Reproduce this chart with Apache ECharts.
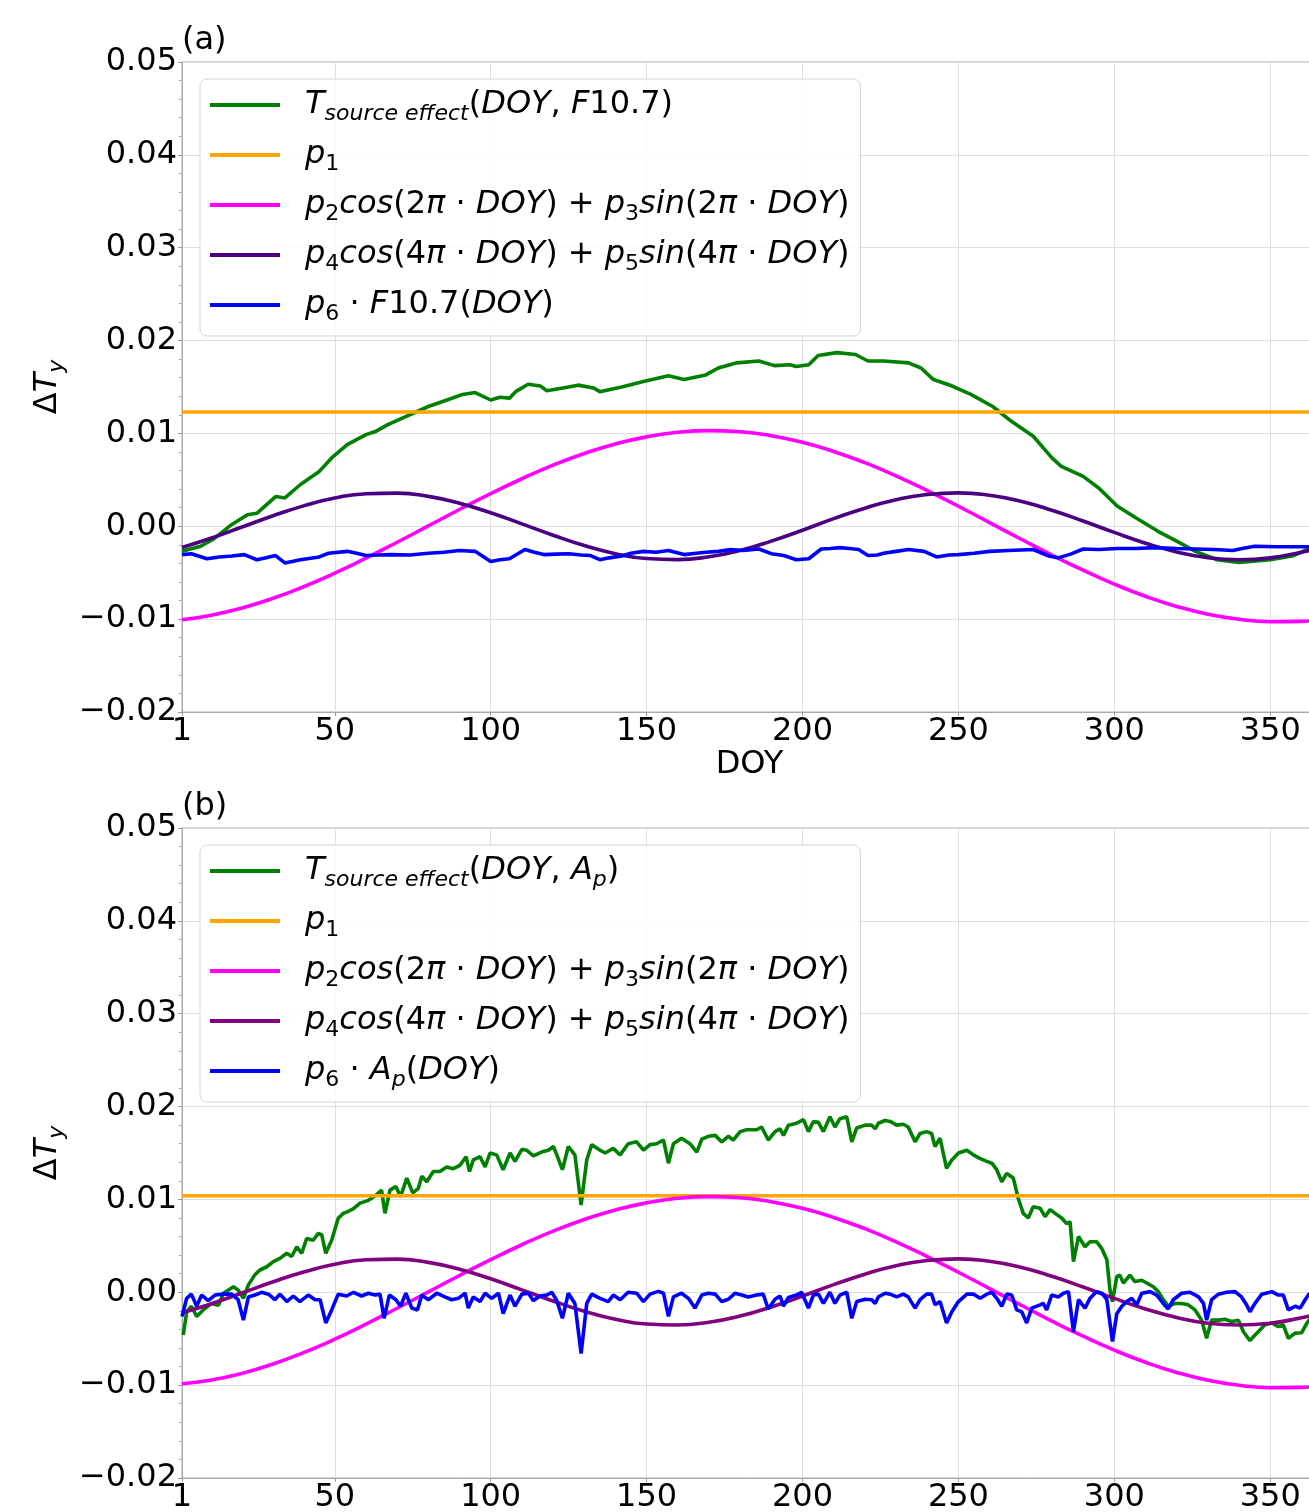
<!DOCTYPE html>
<html>
<head>
<meta charset="utf-8">
<script src="https://cdn.jsdelivr.net/npm/echarts@6/dist/echarts.min.js"></script>
<style>html,body{margin:0;padding:0;background:#fff}#c{width:1309px;height:1512px}</style>
</head>
<body>
<div id="c"></div>
<script>
// ---------------- DATA ----------------
const xTickLabels = [1, 50, 100, 150, 200, 250, 300, 350];
const yTicks = [-0.02, -0.01, 0.00, 0.01, 0.02, 0.03, 0.04, 0.05];

// Panel (a): F10.7 model
const greenA = [[1,-0.0027],[7,-0.00215],[11,-0.0014],[17,0.0002],[22,0.00125],[25,0.0014],[31,0.0032],[34,0.00305],[39,0.0045],[45,0.0059],[49,0.00736],[54,0.0088],[60,0.00987],[63,0.0102],[67,0.01095],[74,0.012],[80,0.0129],[86,0.0136],[91,0.0142],[95,0.0144],[100,0.0136],[103,0.0139],[106,0.0138],[108,0.0145],[112,0.0153],[116,0.0151],[118,0.0146],[125,0.015],[128,0.0152],[133,0.0149],[135,0.0145],[142,0.015],[149,0.0156],[157,0.0162],[162,0.0158],[169,0.0163],[173,0.01705],[179,0.0176],[186,0.0178],[191,0.0173],[196,0.0174],[198,0.0172],[202,0.0174],[205,0.0184],[211,0.0187],[217,0.0185],[221,0.0178],[226,0.0178],[234,0.0176],[238,0.01705],[242,0.0158],[248,0.0151],[254,0.0142],[261,0.0129],[267,0.0113],[274,0.0097],[280,0.00736],[283,0.00646],[290,0.00538],[295,0.00413],[301,0.00215],[307,0.0009],[314,-0.00054],[320,-0.0016],[326,-0.0027],[333,-0.0036],[340,-0.0039],[350,-0.0036],[357,-0.0032],[362,-0.0025],[365,-0.0023]];
const p1A = [[1,0.0123],[365,0.0123]];
const annualA = [[1,-0.01006],[10,-0.0096],[20,-0.00882],[30,-0.00778],[40,-0.00651],[50,-0.00505],[60,-0.00343],[70,-0.00172],[80,0.00004],[90,0.00181],[100,0.00352],[110,0.00512],[120,0.00658],[130,0.00784],[140,0.00887],[150,0.00963],[160,0.01012],[170,0.0103],[180,0.01018],[190,0.00975],[200,0.00904],[210,0.00806],[220,0.00685],[230,0.00543],[240,0.00385],[250,0.00216],[260,0.0004],[270,-0.00137],[280,-0.0031],[290,-0.00473],[300,-0.00623],[310,-0.00754],[320,-0.00863],[330,-0.00947],[340,-0.01002],[350,-0.01028],[360,-0.01024],[365,-0.0101]];
const semiA = [[1,-0.00228],[10,-0.00132],[20,-0.00011],[30,0.00111],[40,0.0022],[50,0.00304],[60,0.00351],[70,0.00357],[80,0.00322],[90,0.00248],[100,0.00146],[110,0.00026],[120,-0.00096],[130,-0.00208],[140,-0.00295],[150,-0.00347],[160,-0.00359],[170,-0.00328],[180,-0.0026],[190,-0.0016],[200,-0.00042],[210,0.00082],[220,0.00195],[230,0.00286],[240,0.00343],[250,0.0036],[260,0.00334],[270,0.0027],[280,0.00173],[290,0.00057],[300,-0.00066],[310,-0.00182],[320,-0.00276],[330,-0.00338],[340,-0.0036],[350,-0.0034],[360,-0.0028],[365,-0.00237]];
const blueA = [[1,-0.00305],[4,-0.00295],[9,-0.0035],[13,-0.0033],[17,-0.0032],[21,-0.00305],[25,-0.0036],[28,-0.0034],[31,-0.00315],[34,-0.00395],[39,-0.0036],[45,-0.0033],[48,-0.0029],[54,-0.0027],[57,-0.0029],[60,-0.00315],[64,-0.0031],[68,-0.00305],[74,-0.0031],[80,-0.0029],[85,-0.0028],[90,-0.0026],[95,-0.0027],[100,-0.0038],[103,-0.0036],[106,-0.0035],[111,-0.0025],[114,-0.0028],[117,-0.00305],[121,-0.003],[125,-0.00295],[129,-0.0031],[132,-0.00315],[135,-0.0036],[138,-0.0034],[142,-0.0032],[145,-0.0029],[149,-0.0027],[153,-0.0028],[157,-0.0026],[162,-0.00305],[166,-0.0029],[169,-0.0028],[173,-0.0027],[177,-0.0025],[181,-0.0026],[186,-0.00245],[190,-0.00295],[194,-0.00315],[198,-0.0036],[202,-0.0035],[206,-0.00245],[209,-0.0024],[212,-0.0023],[215,-0.0024],[218,-0.0025],[221,-0.00315],[224,-0.0031],[226,-0.0029],[230,-0.0027],[234,-0.0025],[239,-0.0027],[243,-0.0033],[247,-0.0031],[250,-0.00305],[255,-0.0029],[260,-0.0027],[266,-0.0026],[274,-0.0025],[279,-0.0032],[282,-0.0034],[286,-0.003],[290,-0.00245],[295,-0.0025],[301,-0.0024],[307,-0.0024],[313,-0.0023],[320,-0.0024],[326,-0.00245],[332,-0.0025],[338,-0.0026],[341,-0.0024],[345,-0.00215],[352,-0.0022],[358,-0.0022],[362,-0.0022],[365,-0.0022]];

// Panel (b): Ap model
const greenB = [[1.4,-0.0046],[2.5,-0.0021],[4,-0.0015],[5.7,-0.0026],[7.8,-0.0019],[10.5,-0.0012],[12.7,-0.0014],[14.3,-0.0001],[17.5,0.0006],[19,0.00025],[20.7,-0.00065],[22.3,0.0008],[24.4,0.0019],[26,0.0024],[28.2,0.00275],[30.3,0.0033],[32.4,0.00365],[34.6,0.0042],[36.2,0.00385],[37.8,0.0049],[39.4,0.0042],[41,0.0058],[43.1,0.0056],[44.7,0.00635],[45.8,0.0062],[47.1,0.0042],[49,0.0056],[51.1,0.00797],[52.7,0.0085],[54.3,0.0087],[56,0.009],[58.1,0.0096],[60.8,0.0099],[63.4,0.0105],[65,0.011],[66.1,0.0085],[67.7,0.011],[69.6,0.0114],[71.1,0.0103],[73.1,0.0123],[75,0.0107],[76.8,0.0112],[77.9,0.0125],[79.5,0.0119],[81.6,0.013],[83.7,0.013],[85.9,0.0135],[88,0.0133],[90.2,0.0137],[92.1,0.0146],[93.2,0.013],[94.4,0.01425],[96.6,0.0146],[98.2,0.0135],[99.8,0.015],[101.9,0.0148],[104,0.0132],[106.2,0.015],[107.8,0.0141],[110,0.0154],[111.5,0.0153],[113.7,0.0147],[116.3,0.0151],[118.5,0.0153],[120.1,0.0157],[121.2,0.0148],[123,0.0132],[124.9,0.0157],[127,0.0148],[129,0.0094],[130.8,0.01425],[132.4,0.0159],[135.1,0.0153],[136.7,0.015],[139.3,0.0155],[141.5,0.0148],[144.1,0.016],[146.8,0.0162],[149,0.0153],[151.1,0.0159],[153.2,0.016],[155.4,0.0164],[157,0.0139],[158.6,0.016],[161.2,0.0166],[163.9,0.016],[166.1,0.0151],[167.7,0.0165],[169.8,0.0168],[172,0.0169],[174.1,0.0162],[176.2,0.0168],[177.8,0.0164],[180,0.0173],[182.1,0.0175],[185.3,0.0175],[186.9,0.0178],[189,0.0164],[191.2,0.0173],[192.8,0.0176],[193.9,0.0169],[195.5,0.018],[198.1,0.0182],[200.3,0.0186],[201.9,0.0173],[203.5,0.0184],[205.1,0.0183],[206.7,0.0173],[208.8,0.0189],[210.4,0.0178],[212,0.0187],[214.2,0.0189],[215.8,0.0162],[217.4,0.0177],[220.1,0.018],[222.2,0.018],[223.3,0.0176],[224.3,0.0182],[226.5,0.0185],[228.1,0.0184],[230.2,0.018],[232.3,0.0181],[233.9,0.0178],[236.1,0.0162],[237.7,0.0171],[239.8,0.0173],[241.4,0.0171],[242.5,0.0157],[244.1,0.0166],[246.2,0.01335],[247.9,0.01425],[250,0.015],[252.7,0.0153],[254.8,0.0148],[257,0.0144],[259.1,0.0141],[260.7,0.0139],[262.3,0.0132],[263.9,0.0119],[265.5,0.0128],[267.6,0.0123],[269.2,0.0101],[270.8,0.0085],[272.4,0.008],[274,0.0092],[276.2,0.00905],[277.8,0.00815],[279.4,0.0089],[281,0.0085],[283.1,0.008],[284.7,0.0074],[285.8,0.0076],[286.9,0.0033],[288.5,0.006],[290.6,0.0049],[292.2,0.00545],[294.3,0.00545],[296,0.0047],[297.6,0.0035],[298.6,0.00025],[299.4,-0.001],[300.8,0.0017],[301.8,0.00185],[302.9,0.001],[305,0.00185],[306.6,0.00115],[308.8,0.0013],[310.4,0.001],[312.5,0.0006],[314.1,0.00007],[315.7,-0.0008],[317.3,-0.0015],[319.5,-0.0012],[321.6,-0.0012],[323.7,-0.00135],[325.9,-0.0019],[328,-0.003],[329.6,-0.00495],[331.2,-0.003],[333.4,-0.003],[335.5,-0.0029],[337.6,-0.00315],[339.8,-0.003],[341.4,-0.00425],[343.5,-0.0052],[345.7,-0.0044],[348.3,-0.0035],[350.5,-0.0033],[352.6,-0.0037],[354.2,-0.0035],[355.8,-0.00495],[358,-0.0044],[360.1,-0.00435],[361.7,-0.00335],[362.4,-0.003],[365,-0.0028]];
const p1B = [[1,0.0104],[365,0.0104]];
const annualB = [[1,-0.00985],[10,-0.00948],[20,-0.00876],[30,-0.00775],[40,-0.0065],[50,-0.00505],[60,-0.00343],[70,-0.00172],[80,0.00004],[90,0.00181],[100,0.00352],[110,0.00512],[120,0.00658],[130,0.00784],[140,0.00887],[150,0.00963],[160,0.01012],[170,0.0103],[180,0.01018],[190,0.00975],[200,0.00904],[210,0.00806],[220,0.00685],[230,0.00543],[240,0.00385],[250,0.00216],[260,0.0004],[270,-0.00137],[280,-0.0031],[290,-0.00473],[300,-0.00623],[310,-0.00754],[320,-0.00863],[330,-0.00947],[340,-0.01002],[350,-0.01028],[360,-0.01024],[365,-0.0101]];
const semiB = [[1,-0.0022],[10,-0.00128],[20,-0.0001],[30,0.0011],[40,0.00218],[50,0.00302],[60,0.0035],[70,0.00357],[80,0.00322],[90,0.00248],[100,0.00146],[110,0.00026],[120,-0.00094],[130,-0.00204],[140,-0.0029],[150,-0.00342],[160,-0.00352],[170,-0.00322],[180,-0.00256],[190,-0.00158],[200,-0.0004],[210,0.00082],[220,0.00195],[230,0.00286],[240,0.00343],[250,0.0036],[260,0.00334],[270,0.0027],[280,0.00173],[290,0.00057],[300,-0.00066],[310,-0.0018],[320,-0.00272],[330,-0.00333],[340,-0.00352],[350,-0.00333],[360,-0.00275],[365,-0.00235]];
const blueB = [[1,-0.0026],[2.5,-0.00065],[4,-0.0002],[5.7,-0.0015],[7.3,-0.0003],[9.4,-0.0009],[11.6,-0.0003],[14.3,-0.0002],[16.9,-0.0002],[19,-0.0008],[20.7,-0.003],[22.3,-0.0005],[24.4,-0.0003],[26.5,0],[28.7,-0.0002],[30.8,-0.0008],[32.4,-0.0002],[34.6,-0.001],[36.7,-0.0004],[38.8,-0.001],[41.5,-0.0003],[43.7,-0.0008],[45.3,-0.0008],[47.1,-0.0033],[49,-0.0019],[51.1,-0.0002],[53.8,-0.0004],[56,0],[58.6,-0.0004],[60.8,-0.0001],[62.9,-0.0003],[64.5,-0.0002],[65.8,-0.0028],[67.5,-0.0003],[69.6,-0.0008],[71.1,-0.0015],[72.8,-0.0001],[74.7,-0.0017],[76.5,-0.0019],[77.9,-0.0003],[80,-0.0008],[82.7,-0.0001],[85.3,-0.0005],[87.5,-0.0008],[89.6,-0.00065],[91.8,-0.0001],[92.8,-0.0017],[94.4,-0.0005],[96.6,-0.001],[98.2,-0.0001],[100.3,-0.00065],[102.5,-0.0001],[104,-0.0023],[106.2,-0.0003],[107.8,-0.0015],[110,-0.0002],[112.1,-0.0001],[113.7,-0.0009],[115.8,-0.0004],[118,-0.0003],[119.6,0],[121.2,-0.0009],[123,-0.0028],[124.9,-0.0001],[127,-0.0012],[129,-0.0066],[130.8,-0.0012],[132.4,-0.0002],[135.1,-0.00065],[137.7,-0.001],[139.3,-0.0003],[141.5,-0.0008],[144.1,0],[146.8,-0.0001],[149,-0.001],[151.1,-0.0002],[153.8,0.0001],[155.4,-0.0001],[157,-0.0026],[158.6,-0.0005],[161.2,-0.0001],[163.4,-0.00065],[165.5,-0.0017],[167.7,-0.0003],[169.8,-0.0001],[172,-0.0002],[174.1,-0.001],[176.2,-0.00075],[178.4,-0.0001],[180.5,-0.0003],[182.6,-0.0005],[185.3,-0.0003],[187.4,-0.0002],[189,-0.0018],[191.2,-0.00075],[192.8,-0.0004],[193.9,-0.0015],[195.5,-0.00055],[198.1,-0.0003],[199.7,0],[201.9,-0.0017],[203.5,-0.0003],[205.1,-0.0002],[206.7,-0.0012],[208.8,0],[210.4,-0.0012],[212,-0.0003],[214.2,0],[215.8,-0.0028],[217.4,-0.001],[220.1,-0.00075],[222.2,-0.0008],[223.3,-0.0012],[224.3,-0.0005],[226.5,-0.0001],[228.1,-0.0002],[230.2,-0.0005],[232.3,-0.0002],[233.9,-0.0005],[236.1,-0.0017],[237.7,-0.0008],[239.8,-0.0002],[241.4,-0.0002],[242.5,-0.00135],[244.1,-0.001],[246.2,-0.0033],[247.9,-0.0021],[250,-0.001],[252.7,-0.0002],[254.8,-0.0002],[257,-0.00065],[259.1,-0.0002],[260.7,0],[262.3,-0.00065],[263.9,-0.0015],[265.5,-0.0002],[267.1,-0.0003],[268.7,-0.0019],[270.3,-0.0021],[271.9,-0.0033],[273.5,-0.0017],[276.2,-0.00135],[277.2,-0.0012],[278.3,-0.0019],[279.9,-0.0003],[282,-0.0005],[283.7,-0.0001],[285.3,0.00007],[286.9,-0.00425],[288.5,-0.0008],[290.6,-0.0017],[292.2,-0.00065],[294.3,0.00007],[296,-0.0001],[297.6,-0.0008],[299.4,-0.0053],[300.8,-0.0023],[302.4,-0.0015],[304,-0.001],[305.6,-0.00065],[307.2,-0.00135],[308.8,-0.0001],[311.5,0.00007],[313.6,-0.0003],[315.7,-0.0012],[317.3,-0.0018],[318.9,-0.0008],[321.6,-0.0001],[324.3,0],[327,-0.0005],[328.6,-0.0012],[329.6,-0.003],[331.2,-0.0008],[333.4,-0.0002],[336,0],[338.7,0.00007],[340.8,-0.0005],[342.4,-0.00135],[343.5,-0.0021],[345.1,-0.0012],[347.3,-0.0002],[350.5,0.00007],[352.6,-0.0003],[354.2,-0.0003],[355.8,-0.0019],[358,-0.0015],[359.6,-0.0017],[361.2,-0.0008],[362.4,-0.0002],[365,-0.0002]];

// ---------------- STYLE ----------------
const FONT = 'DejaVu Sans';
const FS = 32;
const TXT = '#000';
const richStyles = {
  i: {fontFamily: FONT, fontSize: FS, fontStyle: 'italic', color: TXT, lineHeight: 40},
  n: {fontFamily: FONT, fontSize: FS, color: TXT, lineHeight: 40},
  s: {fontFamily: FONT, fontSize: 22, fontStyle: 'italic', color: TXT, lineHeight: 12, verticalAlign: 'bottom'},
  sn: {fontFamily: FONT, fontSize: 22, color: TXT, lineHeight: 12, verticalAlign: 'bottom'}
};
const LABELS = {
  Ta: '{i|T}{s|source effect}{n|(}{i|DOY}{n|, }{i|F}{n|10.7)}',
  p1a: '{i|p}{sn|1}',
  h1a: '{i|p}{sn|2}{i|cos}{n|(2}{i|π}{n| · }{i|DOY}{n|) + }{i|p}{sn|3}{i|sin}{n|(2}{i|π}{n| · }{i|DOY}{n|)}',
  h2a: '{i|p}{sn|4}{i|cos}{n|(4}{i|π}{n| · }{i|DOY}{n|) + }{i|p}{sn|5}{i|sin}{n|(4}{i|π}{n| · }{i|DOY}{n|)}',
  p6a: '{i|p}{sn|6}{n| · }{i|F}{n|10.7(}{i|DOY}{n|)}',
  Tb: '{i|T}{s|source effect}{n|(}{i|DOY}{n|, }{i|A}{s|p}{n|)}',
  p1b: '{i|p}{sn|1}',
  h1b: '{i|p}{sn|2}{i|cos}{n|(2}{i|π}{n| · }{i|DOY}{n|) + }{i|p}{sn|3}{i|sin}{n|(2}{i|π}{n| · }{i|DOY}{n|)}',
  h2b: '{i|p}{sn|4}{i|cos}{n|(4}{i|π}{n| · }{i|DOY}{n|) + }{i|p}{sn|5}{i|sin}{n|(4}{i|π}{n| · }{i|DOY}{n|)}',
  p6b: '{i|p}{sn|6}{n| · }{i|A}{s|p}{n|(}{i|DOY}{n|)}'
};

const GRID_TOPS = [62, 828];
const PLOT_H = 650;

function yFmt(v) {
  const s = Math.abs(v).toFixed(2);
  return v < -1e-9 ? '\u2212' + s : s;
}

function xAxis(idx, withName) {
  return {
    type: 'value', gridIndex: idx, min: 1, max: 365,
    name: withName ? 'DOY' : '', nameLocation: 'middle', nameGap: 36,
    nameTextStyle: {fontFamily: FONT, fontSize: FS, color: TXT},
    axisLine: {show: true, onZero: false, lineStyle: {color: '#aaa', width: 1}},
    axisTick: {show: true, length: 4, lineStyle: {color: '#999'}, customValues: xTickLabels},
    axisLabel: {fontFamily: FONT, fontSize: FS, color: TXT, margin: 4, customValues: xTickLabels},
    splitLine: {show: true, lineStyle: {color: '#dedede', width: 1}}
  };
}
function yAxis(idx) {
  return {
    type: 'value', gridIndex: idx, min: yTicks[0], max: yTicks[yTicks.length - 1], interval: 0.01,
    name: '{d|Δ}{i|T}{s|y}', nameLocation: 'middle', nameRotate: 90, nameGap: 108,
    nameTextStyle: {fontFamily: FONT, fontSize: FS, color: TXT, rich: {
      d: {fontFamily: FONT, fontSize: FS, color: TXT, lineHeight: 40},
      i: richStyles.i, s: richStyles.s}},
    axisLine: {show: true, lineStyle: {color: '#aaa', width: 1}},
    axisTick: {show: true, length: 4, lineStyle: {color: '#999'}},
    minorTick: {show: true, splitNumber: 5, length: 3, lineStyle: {color: '#aaa'}},
    axisLabel: {fontFamily: FONT, fontSize: FS, color: TXT, margin: 5, formatter: yFmt},
    splitLine: {show: true, lineStyle: {color: '#dedede', width: 1}}
  };
}
function legend(idx, names) {
  return {
    show: true, orient: 'vertical', left: 200, top: GRID_TOPS[idx] + 17,
    data: names, icon: 'rect', itemWidth: 70, itemHeight: 4, itemGap: 10,
    selectedMode: false,
    backgroundColor: 'rgba(255,255,255,0.85)', borderColor: '#d5d5d5', borderWidth: 1, borderRadius: 7,
    padding: [6, 11, 11, 10],
    formatter: n => LABELS[n],
    textStyle: {fontFamily: FONT, fontSize: FS, color: TXT, lineHeight: 40, padding: [0, 0, 0, 20], rich: richStyles}
  };
}
function line(name, data, color, idx, smooth) {
  return {
    name, type: 'line', data, xAxisIndex: idx, yAxisIndex: idx,
    showSymbol: false, symbol: 'none', smooth: smooth ? 0.5 : false, clip: true,
    color, lineStyle: {color, width: 3.6}, itemStyle: {color},
    emphasis: {disabled: true}, z: 2
  };
}

const chart = echarts.init(document.getElementById('c'), null, {renderer: 'canvas', width: 1309, height: 1512});
chart.setOption({
  animation: false,
  backgroundColor: '#fff',
  title: [
    {text: '(a)', left: 182, top: 25, padding: 0, textStyle: {fontFamily: FONT, fontSize: FS, fontWeight: 'normal', color: TXT}},
    {text: '(b)', left: 182, top: 791, padding: 0, textStyle: {fontFamily: FONT, fontSize: FS, fontWeight: 'normal', color: TXT}}
  ],
  grid: GRID_TOPS.map(t => ({left: 182, right: -8, top: t, height: PLOT_H, show: true,
    borderColor: '#aaa', borderWidth: 1, backgroundColor: 'transparent', containLabel: false, outerBoundsMode: 'none'})),
  xAxis: [xAxis(0, true), xAxis(1, false)],
  yAxis: [yAxis(0), yAxis(1)],
  legend: [
    legend(0, ['Ta', 'p1a', 'h1a', 'h2a', 'p6a']),
    legend(1, ['Tb', 'p1b', 'h1b', 'h2b', 'p6b'])
  ],
  series: [
    line('Ta', greenA, '#008000', 0),
    line('p1a', p1A, '#FFA500', 0),
    line('h1a', annualA, '#FF00FF', 0, true),
    line('h2a', semiA, '#4B0082', 0, true),
    line('p6a', blueA, '#0000FF', 0),
    line('Tb', greenB, '#008000', 1),
    line('p1b', p1B, '#FFA500', 1),
    line('h1b', annualB, '#FF00FF', 1, true),
    line('h2b', semiB, '#800080', 1, true),
    line('p6b', blueB, '#0000FF', 1)
  ]
});
</script>
</body>
</html>
